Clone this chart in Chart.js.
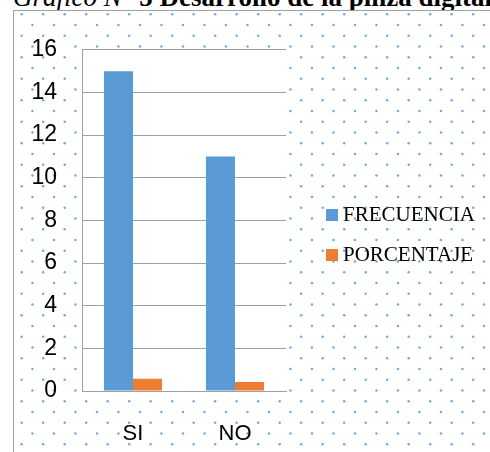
<!DOCTYPE html>
<html lang="es">
<head>
<meta charset="UTF-8">
<title>Gráfico N° 5 Desarrollo de la pinza digital</title>
<script src="https://cdn.jsdelivr.net/npm/chart.js"></script>
<style>
    body {
        margin: 0;
        width: 490px;
        height: 452px;
        overflow: hidden;
        position: relative;
        background: #fff;
        font-family: "Liberation Serif", "Times New Roman", serif;
        color: #000;
    }
    #titulo {
        position: absolute;
        left: 13px;
        top: -16px;
        font-size: 27px;
        line-height: 27px;
        white-space: nowrap;
    }
    #titulo i { font-weight: normal; }
    #marco {
        position: absolute;
        left: 13px;
        top: 10px;
        width: 520px;
        height: 480px;
        border-left: 1px solid #a0a0a0;
        border-top: 1px solid #a0a0a0;
        background: #fff;
    }
    #grafico { position: absolute; left: 0; top: 0; }
    .item {
        position: absolute;
        left: 312px;
        height: 20px;
        font-size: 21px;
        line-height: 20px;
        white-space: nowrap;
    }
    .item span.caja {
        position: absolute;
        left: 0;
        top: 5px;
        width: 12px;
        height: 12px;
    }
    .item span.texto {
        position: absolute;
        left: 17px;
        top: 0;
    }
</style>
</head>
<body>
<div id="titulo"><i>Gráfico N°</i> <b>5 Desarrollo de la pinza digital</b></div>
<div id="marco">
    <canvas id="grafico" width="476" height="441"></canvas>
    <div id="leyenda"></div>
</div>

<script>
    // datos del gráfico
    const categorias = ['SI', 'NO'];
    const frecuencia = [15, 11];
    const porcentaje = [0.58, 0.42];
    const nombresSeries = ['FRECUENCIA', 'PORCENTAJE'];
    const coloresSeries = ['#5b9bd5', '#ed7d31'];
    const marcasEje = [0, 2, 4, 6, 8, 10, 12, 14, 16];

    const gris = '#a0a0a0';

    // fondo con puntos azules y zona de trazado en blanco
    const fondoPunteado = {
        id: 'fondoPunteado',
        beforeDraw(chart) {
            const { ctx, width, height, chartArea: a } = chart;
            const paso = 21.5;
            ctx.save();
            ctx.fillStyle = '#fff';
            ctx.fillRect(0, 0, width, height);
            ctx.fillStyle = '#74a9de';
            for (let fila = 0; 3.3 + fila * paso / 2 < height + paso; fila++) {
                const y = 3.3 + fila * paso / 2;
                const x0 = 7.7 + (fila % 2) * paso / 2;
                for (let x = x0; x < width + paso; x += paso) {
                    ctx.beginPath();
                    ctx.arc(x, y, 1.25, 0, Math.PI * 2);
                    ctx.fill();
                }
            }
            ctx.fillStyle = '#fff';
            ctx.fillRect(a.left, a.top, a.right - a.left, a.bottom - a.top);
            ctx.restore();
        }
    };

    const chart = new Chart(document.getElementById('grafico'), {
        type: 'bar',
        data: {
            labels: categorias,
            datasets: [
                { label: nombresSeries[0], data: frecuencia, backgroundColor: coloresSeries[0] },
                { label: nombresSeries[1], data: porcentaje, backgroundColor: coloresSeries[1] }
            ]
        },
        options: {
            responsive: false,
            animation: false,
            devicePixelRatio: 1,
            layout: { padding: { left: 0, top: 28, right: 204, bottom: 0 } },
            datasets: {
                bar: { categoryPercentage: 0.57, barPercentage: 1 }
            },
            plugins: {
                legend: { display: false },
                tooltip: { enabled: false }
            },
            scales: {
                x: {
                    grid: { display: false },
                    border: { display: true, color: gris, width: 1 },
                    ticks: {
                        color: '#000',
                        font: { family: '"Liberation Sans", Arial, sans-serif', size: 22 },
                        padding: 22
                    },
                    afterFit(s) { s.height = 61; }
                },
                y: {
                    min: marcasEje[0],
                    max: marcasEje[marcasEje.length - 1],
                    ticks: {
                        stepSize: marcasEje[1] - marcasEje[0],
                        color: '#000',
                        font: { family: '"Liberation Sans", Arial, sans-serif', size: 23 },
                        padding: 25
                    },
                    grid: { color: gris, lineWidth: 1, drawTicks: false },
                    border: { display: true, color: gris, width: 1 },
                    afterFit(s) { s.width = 68; }
                }
            }
        },
        plugins: [fondoPunteado]
    });

    // leyenda a la derecha, a partir de las series
    const leyenda = document.getElementById('leyenda');
    chart.data.datasets.forEach((ds, i) => {
        const item = document.createElement('div');
        item.className = 'item';
        item.style.top = (193 + i * 40) + 'px';
        item.innerHTML = '<span class="caja" style="background:' + ds.backgroundColor + '"></span>' +
            '<span class="texto">' + ds.label + '</span>';
        leyenda.appendChild(item);
    });
</script>
</body>
</html>
